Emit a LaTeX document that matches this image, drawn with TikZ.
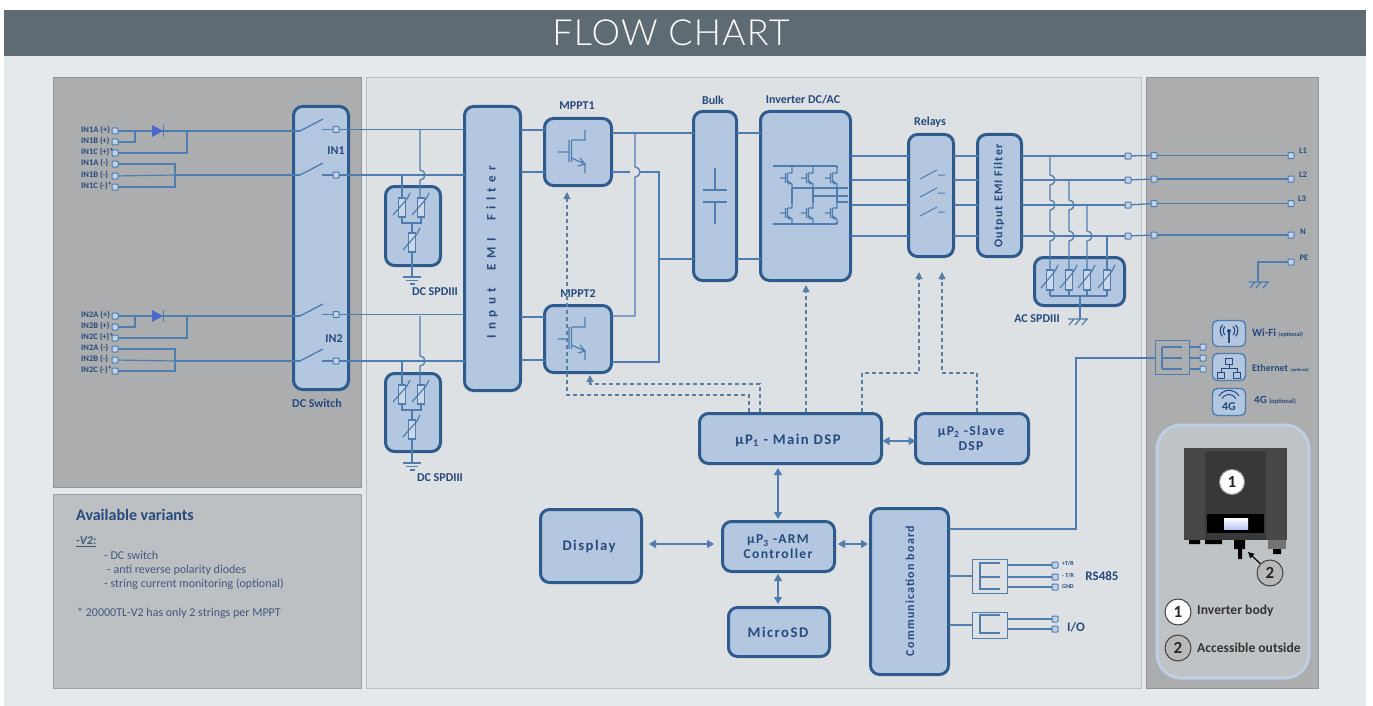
\documentclass[tikz,border=0pt]{standalone}
\usepackage{fontspec}
\setmainfont{Carlito}
\newfontfamily\spaced[LetterSpace=10]{Carlito}
\newfontfamily\titlef[LetterSpace=3]{Lato Light}
\usetikzlibrary{arrows.meta,calc}
\definecolor{bgc}{HTML}{E5E9EB}
\definecolor{barc}{HTML}{5F6B73}
\definecolor{sidec}{HTML}{ABADAE}
\definecolor{varc}{HTML}{BCC0C2}
\definecolor{midc}{HTML}{DDE1E4}
\definecolor{edgec}{HTML}{2F5B8C}
\definecolor{fillc}{HTML}{B3C7E0}
\definecolor{wirec}{HTML}{4F7DB0}
\definecolor{darkt}{HTML}{27497C}
\definecolor{softt}{HTML}{41587E}
\tikzset{
 panel/.style={draw=#1!85!black,line width=.6pt,fill=#1,inner sep=0,outer sep=0},
 blockbox/.style={draw=edgec,line width=3pt,fill=fillc,rounded corners=9pt,inner sep=0,outer sep=0,align=center,text=darkt},
 wire/.style={draw=wirec,line width=1.3pt},
 thin wire/.style={draw=wirec,line width=1.2pt},
 term/.style={draw=wirec,line width=1pt,fill=fillc!80!white,minimum size=6pt,inner sep=0,outer sep=0,rounded corners=.8pt},
 dashw/.style={draw=wirec!80!gray,line width=1.1pt,dash pattern=on 4pt off 3pt},
 tip/.style={-{Triangle[length=7pt,width=7pt]}},
 both/.style={{Triangle[length=7pt,width=8pt]}-{Triangle[length=7pt,width=8pt]},draw=wirec,line width=1.2pt},
 lab/.style={text=darkt,font=\bfseries\fontsize{12}{13}\selectfont,inner sep=0},
 tiny/.style={text=darkt,font=\bfseries\fontsize{8.5}{9}\selectfont,inner sep=0},
 blocktxt/.style={text=darkt,font=\spaced\bfseries\fontsize{14.7}{16}\selectfont,inner sep=0,align=center},
 blockmid/.style={text=darkt,font=\spaced\bfseries\fontsize{13.6}{15}\selectfont,inner sep=0,align=center},
 note/.style={text=softt,font=\fontsize{12}{13}\selectfont,inner sep=0,anchor=west},
 legend/.style={text=black!80,font=\bfseries\fontsize{13.6}{15}\selectfont,inner sep=0,anchor=west},
 conbox/.style={draw=wirec,line width=1pt,inner sep=0,outer sep=0},
 iconbox/.style={draw=wirec,line width=1.4pt,fill=fillc,rounded corners=5pt,inner sep=0,outer sep=0},
 badge/.style={circle,draw=black!75,line width=1pt,minimum size=26pt,inner sep=0,font=\bfseries\fontsize{17}{18}\selectfont,text=black!85},
}
% outer-edge box: name, x1,y1,x2,y2, text
\newcommand{\pblock}[6]{\node[blockbox,minimum width={#4-#2-3},minimum height={#5-#3-3}] (#1) at ({(#2+#4)/2},{(#3+#5)/2}) {#6};}
\newcommand{\pplain}[7]{\node[#7,minimum width={#4-#2},minimum height={#5-#3}] (#1) at ({(#2+#4)/2},{(#3+#5)/2}) {#6};}
\newcommand{\tm}[3]{\node[term] (#1) at (#2,#3) {};}
% varistor at x between ytop ybot
\newcommand{\vari}[3]{%
 \draw[thin wire,fill=fillc!70!white] ({#1-3.5},#2) rectangle ({#1+3.5},#3);
 \draw[thin wire] ({#1-9},{#3-2}) -- ({#1+5},{#2+1}) -- ({#1+8},{#2-5});}
% vertical-wire hop to the right
\newcommand{\hopdown}[2]{-- (#1,{#2-5}) arc[start angle=90,end angle=-90,radius=5pt]}
\newcommand{\gnd}[2]{\draw[thin wire] ({#1-9},#2) -- ({#1+9},#2) ({#1-6},{#2+3.5}) -- ({#1+6},{#2+3.5}) ({#1-2.5},{#2+7}) -- ({#1+2.5},{#2+7});}
\newcommand{\chassis}[2]{\draw[thin wire] ({#1-9},#2) -- ({#1+11},#2) ({#1-3},#2) -- ({#1-8},{#2+6}) ({#1+3},#2) -- ({#1-2},{#2+6}) ({#1+10},#2) -- ({#1+5},{#2+6});}
% small IGBT: x of the rail line, y centre
\newcommand{\igbt}[2]{\draw[wirec,line width=1.2pt] ({#1-12},#2) -- ({#1-7},#2) ({#1-6.5},{#2-5}) -- ({#1-6.5},{#2+5}) ({#1-4.5},{#2-5}) -- ({#1-4.5},{#2+5})
  (#1,{#2-11}) -- (#1,{#2-5}) -- ({#1-4.5},{#2-5})  ({#1-4.5},{#2+3}) -- (#1,{#2+6}) -- (#1,{#2+11});
  \fill[wirec] (#1,{#2+6}) -- ({#1-4},{#2+2.5}) -- ({#1-4},{#2+6.5}) -- cycle;}
\newcommand{\mosfet}[1]{\draw[wirec,line width=1.2pt] (558,{152+#1}) -- (569,{152+#1}) (569,{140+#1}) -- (569,{162+#1}) (571.5,{140+#1}) -- (571.5,{162+#1})
  (585,{130+#1}) -- (585,{140+#1}) -- (571.5,{140+#1}) (571.5,{158+#1}) -- (585,{164+#1}) -- (585,{173+#1}) (580,{158+#1}) -- (585,{164+#1}) -- (578,{166+#1});}
\begin{document}
\begin{tikzpicture}[x=1pt,y=-1pt]
\useasboundingbox (0,0) rectangle (1373,706);
\fill[white] (0,0) rectangle (1373,706);
\fill[bgc] (4,56) rectangle (1366,706);
\node[fill=barc,minimum width=1362pt,minimum height=46pt,inner sep=0,outer sep=0] (title) at (685,33) {};
\node[text=white,font=\titlef\fontsize{36}{38}\selectfont,inner sep=0] (titletxt) at (671,33) {FLOW CHART};
% panels
\pplain{pl}{53}{77}{361}{487}{}{panel=sidec}
\pplain{pv}{53}{494}{361}{688}{}{panel=varc}
\pplain{pm}{366}{77}{1141}{688}{}{panel=midc}
\pplain{pr}{1146}{77}{1318}{688}{}{panel=sidec}
% blocks
\pblock{sw}{292}{105}{350}{391}{}
\pblock{ef}{463}{105}{522}{392}{}
\pblock{m1}{543}{117}{613}{187}{}
\pblock{m2}{543}{304}{613}{374}{}
\pblock{blk}{692}{110}{738}{282}{}
\pblock{inv}{759}{110}{852}{282}{}
\pblock{rel}{907}{133}{955}{258}{}
\pblock{of}{976}{133}{1023}{258}{}
\pblock{sa}{384}{185}{442}{267}{}
\pblock{sb}{384}{372}{442}{453}{}
\pblock{sac}{1033}{256}{1126}{307}{}
\pblock{dsp}{698}{412}{883}{465}{}
\pblock{slv}{914}{412}{1030}{465}{}
\pblock{dsy}{539}{508}{643}{584}{}
\pblock{arm}{721}{520}{836}{573}{}
\pblock{sd}{727}{606}{831}{658}{}
\pblock{com}{869}{507}{950}{676}{}
% block texts
\node[blocktxt] (t1) at (788,440) {\textmu P\textsubscript{1} - Main DSP};
\node[blockmid] (t2) at (971,438) {\textmu P\textsubscript{2} -Slave\\DSP};
\node[blocktxt] (t3) at (589,546) {Display};
\node[blockmid] (t4) at (778,547) {\textmu P\textsubscript{3} -ARM\\Controller};
\node[blocktxt] (t5) at (778,632) {MicroSD};
\node[blocktxt,rotate=90,font=\spaced\bfseries\fontsize{12}{14}\selectfont] (t6) at (910,591) {Communication board};
\node[blocktxt,rotate=90,font=\bfseries\fontsize{13}{14}\selectfont\addfontfeature{LetterSpace=42}] (t7) at (492,252) {Input\hspace{9pt} EMI\hspace{9pt} Filter};
\node[blocktxt,rotate=90,font=\spaced\bfseries\fontsize{12}{14}\selectfont] (t8) at (999,196) {Output EMI Filter};
% labels
\node[lab] (l1) at (577,106) {MPPT1};
\node[lab] (l2) at (578,294) {MPPT2};
\node[lab] (l3) at (713,100) {Bulk};
\node[lab] (l4) at (803,100) {Inverter DC/AC};
\node[lab] (l5) at (930,122) {Relays};
\node[lab] (l6) at (336,151) {IN1};
\node[lab] (l7) at (334,339) {IN2};
\node[lab] (l8) at (317,403) {DC Switch};
\node[lab] (l9) at (435,292) {DC SPDIII};
\node[lab] (l10) at (440,478) {DC SPDIII};
\node[lab] (l11) at (1037,319) {AC SPDIII};
% input terminals and wires
\foreach \n/\y/\t in {a/131/IN1A (+),b/142/IN1B (+),c/153/IN1C (+)*,d/164/IN1A (-),e/176/IN1B (-),f/187/IN1C (-)*,g/316/IN2A (+),h/327/IN2B (+),i/338/IN2C (+)*,j/349/IN2A (-),k/360/IN2B (-),m/371/IN2C (-)*}{
 \tm{t\n}{115}{\y}
 \node[tiny,anchor=west] (x\n) at (81,\y-1) {\t};
}
\foreach \k/\A/\B/\C/\D/\E/\F/\ya/\yb in {1/a/b/c/d/e/f/131/175,2/g/h/i/j/k/m/316/361}{
 \coordinate (cp\k) at (187,\ya); \coordinate (cn\k) at (175,\yb);
 \draw[wire] (t\A) -- (300,\ya);
 \draw[thin wire] (t\B) -| (135,\ya);
 \draw[thin wire] (t\C) -| (cp\k);
 \draw[thin wire] (t\D) -| (cn\k);
 \draw[thin wire] (t\F) -| (cn\k);
 \draw[thin wire] (t\E) -- (175,\yb);
 \draw[wire] (cn\k) -- (300,\yb);
 \fill[wirec!70!blue!90!white] (152,\ya-6) -- (163,\ya) -- (152,\ya+6) -- cycle;
 \draw[wirec,line width=1.2pt] (163.5,\ya-6) -- (163.5,\ya+6);
 % switches
 \draw[wire] (300,\ya) -- (323,\ya-12);
 \draw[wire] (300,\yb) -- (323,\yb-12);
 \tm{s\k p}{336}{\ya-1.5}
 \tm{s\k n}{336}{\yb}
 \draw[wire] (322,\ya-1.5) -- (s\k p);
 \draw[wire] (322,\yb) -- (s\k n);
 \draw[wire] (s\k p) -- (s\k p -| ef.west);
 \draw[wire] (s\k n) -- (s\k n -| ef.west);
}
% SPD 1
\draw[wire] (420,129) \hopdown{420}{175} -- (420,198);
\draw[wire] (402,175) -- (402,198);
\vari{402}{198}{217}
\vari{421}{198}{217}
\draw[thin wire] (402,217) -- (402,223) -- (421,223) -- (421,217) (412,223) -- (412,233);
\vari{412}{233}{252}
\draw[thin wire] (412,252) -- (412,277);
\gnd{412}{277}
% SPD 2
\draw[wire] (420,316) \hopdown{420}{361} -- (420,385);
\draw[wire] (402,361) -- (402,385);
\vari{402}{385}{404}
\vari{421}{385}{404}
\draw[thin wire] (402,404) -- (402,410) -- (421,410) -- (421,404) (412,410) -- (412,420);
\vari{412}{420}{439}
\draw[thin wire] (412,439) -- (412,463);
\gnd{412}{463}
% EMI to MPPT
\foreach \y/\b in {130/m1,172/m1,317/m2,360/m2}{\draw[wire] (ef.east |- 0,\y) -- (\b.west |- 0,\y);}
\mosfet{0}
\mosfet{187}
% MPPT outputs
\draw[wire] (m1.east |- 0,133) -- (blk.west |- 0,133);
\draw[wire] (m1.east |- 0,172) -- (630,172) (640,172) -- (659,172) -- (659,362) -- (m2.east |- 0,362);
\draw[wire] (659,259) -- (blk.west |- 0,259);
\draw[wire] (635,133) \hopdown{635}{172} -- (635,316) -- (m2.east |- 0,316);
\draw[wire] (blk.east |- 0,133) -- (inv.west |- 0,133);
\draw[wire] (blk.east |- 0,259) -- (inv.west |- 0,259);
% capacitor
\draw[wirec,line width=1.2pt] (715,168) -- (715,190) (703,190) -- (727,190) (703,202) -- (727,202) (715,202) -- (715,224);
% inverter symbol
\draw[wirec,line width=1.2pt] (773,166) -- (837,166) (837,166) -- (837,224) (773,224) -- (837,224);
\foreach \x in {792,813,837}{\fill[fillc] (\x-1,168) rectangle (\x+1,222);\igbt{\x}{178}\igbt{\x}{213}\draw[wirec,line width=1.2pt] (\x,188) -- (\x,203);}
\draw[wirec,line width=1.2pt] (792,188) -- (848,188) (813,196) -- (848,196) (837,202) -- (848,202);
% outputs
\foreach \n/\y/\yy/\lb/\lx/\ly in {1/156/155.5/L1/1303/151,2/180/179/L2/1303/175,3/205/203.5/L3/1302/199,4/236/235/N/1303/232}{
 \draw[wire] (inv.east |- 0,\y) -- (rel.west |- 0,\y);
 \draw[wire] (rel.east |- 0,\y) -- (of.west |- 0,\y);
 \tm{oa\n}{1128}{\y}
 \tm{ob\n}{1154}{\yy}
 \tm{oc\n}{1291}{\yy}
 \draw[wire] (of.east |- 0,\y) -- (oa\n);
 \draw[wire] (oa\n) -- (ob\n);
 \draw[wire] (ob\n) -- (oc\n);
 \node[tiny] (ol\n) at (\lx,\ly) {\lb};
}
% relay contacts
\foreach \y in {176,194,213}{\draw[wirec,line width=1pt] (920,\y+3) -- (937,\y-6) (938,\y-1) -- (945,\y-1);}
% AC SPD
\draw[wire] (1050,156) \hopdown{1050}{180} \hopdown{1050}{205} \hopdown{1050}{236} -- (1050,270);
\draw[wire] (1069,180) \hopdown{1069}{205} \hopdown{1069}{236} -- (1069,270);
\draw[wire] (1087,205) \hopdown{1087}{236} -- (1087,270);
\draw[wire] (1107,236) -- (1107,270);
\foreach \x in {1050,1069,1087,1107}{\vari{\x}{270}{290}\draw[thin wire] (\x,290) -- (\x,296);}
\draw[thin wire] (1050,296) -- (1107,296) (1080,296) -- (1080,319);
\chassis{1077}{319}
% PE
\tm{pe}{1291}{262}
\node[tiny] (pel) at (1304,258) {PE};
\draw[thin wire] (pe) -| (1258,282);
\chassis{1258}{282}
% comm icons
\node[iconbox,minimum width=33pt,minimum height=26pt] (wf) at (1229,333.5) {};
\node[iconbox,minimum width=33pt,minimum height=27pt] (et) at (1229,367) {};
\node[iconbox,minimum width=33pt,minimum height=27pt] (fg) at (1229,402) {};
\node[text=darkt,font=\bfseries\fontsize{11}{12}\selectfont,inner sep=0,anchor=west] (wft) at (1252,333) {Wi-Fi {\fontsize{6}{7}\selectfont (optional)}};
\node[text=darkt,font=\bfseries\fontsize{10}{12}\selectfont,inner sep=0,anchor=west] (ett) at (1252,368) {Ethernet {\fontsize{4.5}{5}\selectfont (optional)}};
\node[text=darkt,font=\bfseries\fontsize{11}{12}\selectfont,inner sep=0,anchor=west] (fgt) at (1254,400) {4G {\fontsize{6.5}{7}\selectfont (optional)}};
% wifi icon
\draw[darkt,line width=1.4pt] (1229,332) -- (1229,343);
\fill[darkt] (1229,331) circle (2pt);
\draw[darkt,line width=1.1pt] (1225,326.5) arc[start angle=135,end angle=225,radius=6pt] (1233,326.5) arc[start angle=45,end angle=-45,radius=6pt] (1222.5,325) arc[start angle=135,end angle=225,radius=8pt] (1235.5,325) arc[start angle=45,end angle=-45,radius=8pt];
% ethernet icon
\draw[darkt,line width=.9pt] (1225.5,358) rectangle (1232.5,364) (1229,364) -- (1229,368) (1221,368) -- (1237,368) (1221,368) -- (1221,372) (1237,368) -- (1237,372) (1217.5,372) rectangle (1224.5,378) (1233.5,372) rectangle (1240.5,378);
% 4G icon
\draw[darkt,line width=1pt] (1219,396) arc[start angle=150,end angle=30,radius=11.5pt] (1222,398.5) arc[start angle=150,end angle=30,radius=8pt];
\node[text=darkt,font=\bfseries\fontsize{12}{12}\selectfont,inner sep=0] (fgi) at (1229,407) {4G};
% bus connector
\node[conbox,minimum width=34pt,minimum height=34pt] (bus) at (1172,357) {};
\foreach \n/\y in {1/347,2/358,3/369}{\tm{bt\n}{1203}{\y}\draw[thin wire] (bus.east |- 0,\y) -- (bt\n);\draw[thin wire] (1162,\y) -- (1182,\y);}
\draw[thin wire] (1162,347) -- (1162,369);
\coordinate (bend) at (1076,358);
\draw[thin wire] (com.east |- 0,529) -| (bend) -- (bus.west |- bend);
% RS485
\node[conbox,minimum width=35pt,minimum height=34pt] (rsb) at (989.5,576) {};
\draw[thin wire] (com.east |- rsb) -- (rsb.west);
\draw[thin wire] (1000,563) -- (980,563) -- (980,589) -- (1000,589) (980,577) -- (1000,577);
\foreach \n/\y/\t in {1/565/+T/R,2/577/- T/R,3/587/GND}{\tm{rs\n}{1055}{\y}\draw[thin wire] (rsb.east |- 0,\y) -- (rs\n);}
\node[tiny,font=\bfseries\fontsize{6}{6}\selectfont,anchor=west] (r1) at (1062,564) {+T/R};
\node[tiny,font=\bfseries\fontsize{6}{6}\selectfont,anchor=west] (r2) at (1062,576) {- T/R};
\node[tiny,font=\bfseries\fontsize{6}{6}\selectfont,anchor=west] (r3) at (1062,587) {GND};
\node[lab,font=\bfseries\fontsize{13}{14}\selectfont] (rsl) at (1102,576) {RS485};
% I/O
\node[conbox,minimum width=35pt,minimum height=26pt] (iob) at (989.5,625) {};
\draw[thin wire] (com.east |- iob) -- (iob.west);
\draw[thin wire] (1000,615) -- (980,615) -- (980,633) -- (1000,633);
\foreach \n/\y in {1/619,2/629}{\tm{io\n}{1055}{\y}\draw[thin wire] (iob.east |- 0,\y) -- (io\n);}
\node[lab,font=\bfseries\fontsize{13}{14}\selectfont] (iol) at (1076,627) {I/O};
% control dashed
\coordinate (d1) at (567,192);
\draw[dashw,tip] (749,412) -- (749,395) -- (567,395) -- (d1);
\draw[dashw,tip] (760,412) -- (760,384) -- (590,384) -- (590,375);
\draw[dashw,tip] (806,412) -- (806,285);
\draw[dashw,tip] (862,412) -- (862,373) -- (919,373) -- (919,272);
\draw[dashw,tip] (977,412) -- (977,373) -- (942,373) -- (942,272);
% digital arrows
\draw[both] (dsp.east |- 0,441) ++(1,0) -- (slv.west |- 0,441);
\draw[both] (778,468) -- (778,519);
\draw[both] (778,574) -- (778,604);
\draw[both] (649,544) -- (714,544);
\draw[both] (838,544) -- (868,544);
% variants
\node[text=darkt,font=\bfseries\fontsize{16}{18}\selectfont,inner sep=0,anchor=west] (v0) at (76,515) {Available variants};
\node[note,font=\bfseries\itshape\fontsize{12}{13}\selectfont] (v1) at (76,542) {\underline{-V2:}};
\node[note] (v2) at (104,555) {- DC switch};
\node[note] (v3) at (107,570) {- anti reverse polarity diodes};
\node[note] (v4) at (104,584) {- string current monitoring (optional)};
\node[note] (v5) at (77,613) {* 20000TL-V2 has only 2 strings per MPPT};
% inverter picture
\draw[draw=fillc!85!white,line width=3pt,fill=varc!90!midc,rounded corners=24pt] (1157,425) rectangle (1309,678);
\fill[black!72] (1184,448) rectangle (1287,540);
\fill[black!78] (1205,451) rectangle (1266,540);
\fill[black] (1207,514) rectangle (1264,533);
\shade[top color=white,bottom color=fillc!80!blue!60!white] (1224,518) rectangle (1248,529);
\fill[black] (1189,540) rectangle (1200,544) (1205,540) rectangle (1222,544) (1234,540) rectangle (1245,549) (1238,549) rectangle (1242,559) (1273,549) rectangle (1281,554);
\fill[black!55] (1268,540) rectangle (1286,549);
\node[badge,fill=white,draw=black!40,minimum size=25pt] (b1) at (1232,482) {1};
\node[badge,fill=black!28] (b2) at (1270,573) {2};
\draw[-{Triangle[length=6pt,width=6pt]},black,line width=1.2pt] (b2) -- (1248,552);
\node[badge,fill=white] (b3) at (1178,612) {1};
\node[badge,fill=black!28] (b4) at (1178,648) {2};
\node[legend] (b5) at (1197,611) {Inverter body};
\node[legend] (b6) at (1197,648) {Accessible outside};
\end{tikzpicture}
\end{document}
